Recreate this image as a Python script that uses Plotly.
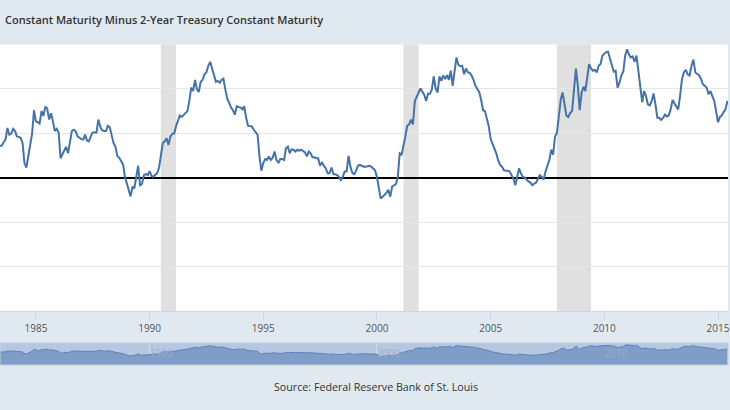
import pandas as pd
import plotly.graph_objects as go

# ---- data (monthly, percent) ----
start_month = "1983-06-01"
spread = [
    0.72, 0.72, 0.80, 0.86, 1.12, 0.97, 0.99,                              # 1983 Jun-Dec
    1.10, 1.05, 0.93, 0.92, 0.90, 0.78, 0.33, 0.23, 0.48, 0.70, 1.00, 1.52,  # 1984
    1.27, 1.25, 1.22, 1.50, 1.39, 1.60, 1.56, 1.31, 1.45, 1.27, 1.05, 1.10,  # 1985
    1.02, 0.44, 0.52, 0.62, 0.70, 0.55, 0.82, 1.05, 1.08, 1.05, 0.93, 0.90,  # 1986
    0.87, 0.86, 0.97, 0.84, 0.82, 0.93, 1.02, 1.02, 1.02, 1.31, 1.15, 1.07,  # 1987
    1.05, 1.05, 1.17, 1.14, 0.93, 0.78, 0.70, 0.49, 0.45, 0.38, 0.30, 0.02,  # 1988
    -0.13, -0.24, -0.42, -0.20, -0.24, 0.02, 0.27, -0.17, -0.14, 0.06, 0.08, 0.06,  # 1989
    0.15, 0.04, 0.02, 0.06, 0.10, 0.22, 0.45, 0.78, 0.82, 0.89, 0.74, 0.93,  # 1990
    0.99, 1.00, 1.16, 1.31, 1.40, 1.37, 1.42, 1.45, 1.50, 1.73, 2.03, 1.95,  # 1991
    2.20, 1.99, 1.93, 2.16, 2.20, 2.33, 2.37, 2.52, 2.61, 2.46, 2.33, 2.16,  # 1992
    2.18, 2.14, 2.20, 2.23, 1.99, 1.78, 1.69, 1.58, 1.52, 1.42, 1.61, 1.60,  # 1993
    1.58, 1.54, 1.61, 1.35, 1.17, 1.16, 1.16, 1.08, 1.02, 0.97, 0.48, 0.16,  # 1994
    0.33, 0.42, 0.40, 0.48, 0.40, 0.45, 0.59, 0.40, 0.33, 0.42, 0.42, 0.40,  # 1995
    0.67, 0.70, 0.55, 0.64, 0.63, 0.59, 0.63, 0.61, 0.63, 0.60, 0.57, 0.48,  # 1996
    0.59, 0.55, 0.46, 0.46, 0.44, 0.44, 0.27, 0.34, 0.27, 0.21, 0.10, 0.10,  # 1997
    0.23, 0.08, 0.08, 0.06, 0.02, -0.05, 0.02, 0.14, 0.14, 0.49, 0.25, 0.11,  # 1998
    0.08, 0.16, 0.27, 0.29, 0.27, 0.25, 0.25, 0.26, 0.27, 0.25, 0.21, 0.17,  # 1999
    0.02, -0.20, -0.47, -0.43, -0.39, -0.34, -0.27, -0.43, -0.20, -0.17, -0.14, 0.02,  # 2000
    0.55, 0.52, 0.70, 0.93, 1.17, 1.20, 1.31, 1.20, 1.73, 1.84, 1.92, 2.01,  # 2001
    1.92, 1.86, 1.73, 1.89, 1.89, 1.99, 2.28, 2.01, 1.92, 2.28, 2.18, 2.30,  # 2002
    2.22, 2.31, 2.20, 2.41, 2.07, 2.37, 2.71, 2.54, 2.51, 2.52, 2.33, 2.46,  # 2003
    2.37, 2.36, 2.30, 2.20, 2.07, 2.00, 1.93, 1.75, 1.52, 1.50, 1.31, 1.16,  # 2004
    0.87, 0.77, 0.69, 0.55, 0.39, 0.29, 0.25, 0.17, 0.16, 0.16, 0.14, 0.04,  # 2005
    -0.02, -0.17, 0.04, 0.21, 0.10, 0.02, 0.01, -0.04, -0.09, -0.11, -0.17, -0.13,  # 2006
    -0.11, -0.02, 0.06, 0.02, -0.04, 0.14, 0.25, 0.40, 0.63, 0.52, 0.93, 1.01,  # 2007
    1.39, 1.77, 1.92, 1.70, 1.40, 1.37, 1.46, 1.50, 1.99, 2.46, 2.07, 1.52,  # 2008
    1.92, 2.05, 1.95, 2.30, 2.56, 2.46, 2.41, 2.43, 2.37, 2.52, 2.56, 2.75,  # 2009
    2.80, 2.83, 2.84, 2.71, 2.54, 2.39, 2.41, 2.03, 2.14, 2.30, 2.39, 2.75,  # 2010
    2.89, 2.77, 2.71, 2.73, 2.61, 2.75, 2.37, 1.99, 1.70, 1.95, 1.84, 1.65,  # 2011
    1.63, 1.73, 1.90, 1.65, 1.35, 1.35, 1.30, 1.35, 1.42, 1.38, 1.40, 1.54,  # 2012
    1.75, 1.67, 1.61, 1.54, 1.84, 2.22, 2.37, 2.43, 2.33, 2.30, 2.52, 2.66,  # 2013
    2.37, 2.33, 2.31, 2.23, 2.11, 2.07, 2.03, 1.88, 1.95, 1.84, 1.73, 1.50,  # 2014
    1.25, 1.37, 1.40, 1.48, 1.54, 1.73,                                      # 2015 Jan-Jun
]
dates = pd.date_range(start_month, periods=len(spread), freq="MS")

rec_start = ["1990-07-01", "2001-03-01", "2007-12-01"]
rec_end = ["1991-03-01", "2001-11-01", "2009-06-01"]

view_range = ["1983-06-04", "2015-06-10"]
y_range = [-3, 3]
nav_range = [-3.0, 3.4]

title_text = "Constant Maturity Minus 2-Year Treasury Constant Maturity"
source_text = "Source: Federal Reserve Bank of St. Louis"

# ---- layout geometry (paper fractions) ----
W = 730.0
H = 410.0
main_dom = [1 - 311 / H, 1 - 44.5 / H]
nav_dom = [1 - 365 / H, 1 - 343 / H]

LINE = "#4572A7"
BG = "#E1E9F0"
FONT = "Open Sans"

fig = go.Figure()

fig.add_trace(go.Scatter(
    x=dates, y=spread, mode="lines",
    line=dict(color=LINE, width=2),
    xaxis="x", yaxis="y", hoverinfo="skip", showlegend=False,
))

# navigator baseline + filled series
fig.add_trace(go.Scatter(
    x=[dates[0], dates[-1]], y=[nav_range[0], nav_range[0]], mode="lines",
    line=dict(width=0, color="rgba(0,0,0,0)"),
    xaxis="x2", yaxis="y2", hoverinfo="skip", showlegend=False,
))
fig.add_trace(go.Scatter(
    x=dates, y=spread, mode="lines", fill="tonexty",
    fillcolor="#7F9DC9", line=dict(color="#5E82B6", width=1),
    xaxis="x2", yaxis="y2", hoverinfo="skip", showlegend=False,
))

shapes = []
for s, e in zip(rec_start, rec_end):
    shapes.append(dict(type="rect", xref="x", yref="y domain", x0=s, x1=e, y0=0, y1=1,
                       fillcolor="#E0E0E0", line=dict(width=0), layer="below"))
# navigator mask background
shapes.append(dict(type="rect", xref="x2 domain", yref="y2 domain", x0=0, x1=1, y0=0, y1=1,
                   fillcolor="#B6C7E2", line=dict(width=0), layer="below"))
shapes.append(dict(type="rect", xref="x2 domain", yref="y2 domain", x0=0, x1=1, y0=0, y1=1,
                   fillcolor="rgba(0,0,0,0)", line=dict(width=1, color="#C4CDD8"), layer="above"))

fig.update_layout(
    width=730, height=410,
    margin=dict(l=0, r=0, t=0, b=0),
    paper_bgcolor=BG, plot_bgcolor="white",
    font=dict(family=FONT, color="#333333"),
    shapes=shapes,
    xaxis=dict(
        domain=[0, 1], anchor="y", type="date", range=view_range,
        tick0="1985-01-01", dtick="M60", tickformat="%Y",
        showgrid=False, showline=True, linecolor="#CCD6EB", linewidth=1,
        ticks="outside", ticklen=8, tickcolor="#CCD6EB",
        tickfont=dict(size=10, color="#555555", family=FONT),
        ticklabeloverflow="allow",
        fixedrange=True,
    ),
    yaxis=dict(
        domain=main_dom, anchor="x", range=y_range, dtick=1,
        showgrid=True, gridcolor="#E6E6E6", gridwidth=1,
        zeroline=True, zerolinecolor="#000000", zerolinewidth=2,
        showticklabels=False, ticks="", showline=False, fixedrange=True,
    ),
    xaxis2=dict(
        domain=[0, 1], anchor="y2", type="date", matches="x",
        tick0="1980-01-01", dtick="M120", tickformat="%Y",
        showgrid=True, gridcolor="rgba(230,233,240,0.5)", gridwidth=1,
        ticks="", ticklabelposition="inside right",
        tickfont=dict(size=10, color="#9DAFC9", family=FONT),
        showline=False, zeroline=False, fixedrange=True,
    ),
    yaxis2=dict(
        domain=nav_dom, anchor="x2", range=nav_range,
        showgrid=False, zeroline=False, showticklabels=False, ticks="", fixedrange=True,
    ),
    annotations=[
        dict(text=title_text, xref="paper", yref="paper", x=3 / W, y=1 - 19 / H,
             xanchor="left", yanchor="middle", showarrow=False,
             font=dict(size=11, color="#333333", family=FONT, weight=600)),
        dict(text=source_text, xref="paper", yref="paper", x=377.5 / W, y=1 - 387 / H,
             xanchor="center", yanchor="middle", showarrow=False,
             font=dict(size=10.7, color="#333333", family=FONT)),
    ],
)

fig.write_html(
    "out.html",
    config={"displayModeBar": False, "staticPlot": True},
    post_script="document.body.style.margin='0';document.body.style.overflow='hidden';",
)
